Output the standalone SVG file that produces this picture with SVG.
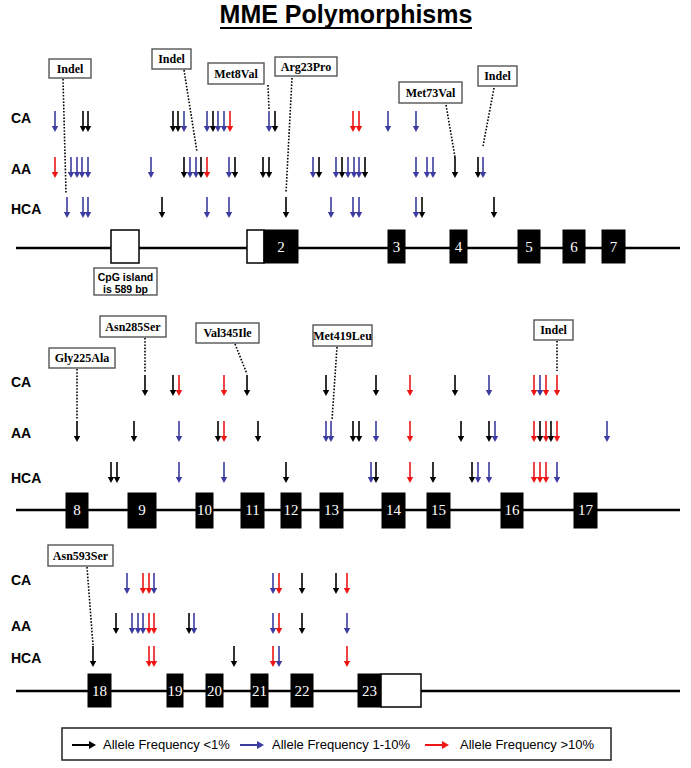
<svg xmlns="http://www.w3.org/2000/svg" xmlns:xlink="http://www.w3.org/1999/xlink" width="691" height="768" viewBox="0 0 691 768">
<style>
.k{color:#000}
.b{color:#3b3ba0}
.r{color:#ee1515}
.gl{stroke:#000;stroke-width:2.5}
.ex{fill:#000;stroke:#000;stroke-width:1}
.wx{fill:#fff;stroke:#000;stroke-width:1.5}
.en{font-family:"Liberation Serif","Times New Roman",serif;font-size:15px;fill:#fff;text-anchor:middle}
.rl{font-family:"Liberation Sans",Arial,sans-serif;font-size:14px;font-weight:bold;fill:#000}
.cb{fill:#fff;stroke:#555;stroke-width:1.4}
.ct{font-family:"Liberation Serif","Times New Roman",serif;font-size:12px;font-weight:bold;fill:#000;text-anchor:middle}
.dl{stroke:#000;stroke-width:1.6;stroke-dasharray:1.6,1.6;fill:none}
.lg{font-family:"Liberation Sans",Arial,sans-serif;font-size:13px;fill:#000}
</style>
<defs>
<g id="a"><line x1="0" y1="0" x2="0" y2="16" stroke="currentColor" stroke-width="1.6"/><path d="M-3.2,15 L3.2,15 L0,21 Z" fill="currentColor"/></g>
<g id="h"><line x1="0" y1="0" x2="18" y2="0" stroke="currentColor" stroke-width="2"/><path d="M17,-4 L17,4 L24,0 Z" fill="currentColor"/></g>
</defs>
<rect width="691" height="768" fill="#fff"/>
<g id="title">
<text x="346" y="23" font-family="'Liberation Sans',Arial,sans-serif" font-size="25" font-weight="bold" text-anchor="middle">MME Polymorphisms</text>
<line x1="220" y1="28" x2="472" y2="28" stroke="#000" stroke-width="2"/>
</g>

<!-- Section 1 -->
<g id="section1">
<g id="labels1">
<text class="rl" x="11" y="123">CA</text>
<text class="rl" x="11" y="174">AA</text>
<text class="rl" x="11" y="214">HCA</text>
</g>
<line class="gl" x1="16" y1="248" x2="680" y2="248"/>
<g id="cpg"><rect class="wx" x="111" y="230" width="28" height="33"/></g>
<g id="exon2"><rect class="wx" x="247" y="230" width="17" height="33"/><rect class="ex" x="264" y="230" width="34" height="33"/><text class="en" x="281" y="252">2</text></g>
<g id="exon3"><rect class="ex" x="388" y="230" width="17" height="33"/><text class="en" x="396.5" y="252">3</text></g>
<g id="exon4"><rect class="ex" x="450" y="230" width="17" height="33"/><text class="en" x="458.5" y="252">4</text></g>
<g id="exon5"><rect class="ex" x="518" y="230" width="22" height="33"/><text class="en" x="529" y="252">5</text></g>
<g id="exon6"><rect class="ex" x="563" y="230" width="22" height="33"/><text class="en" x="574" y="252">6</text></g>
<g id="exon7"><rect class="ex" x="602" y="230" width="23" height="33"/><text class="en" x="613.5" y="252">7</text></g>
<g id="cpglabel"><rect class="cb" x="94" y="268" width="63" height="27"/>
<text x="125.5" y="281" font-family="'Liberation Sans',Arial,sans-serif" font-size="10.5" font-weight="bold" text-anchor="middle">CpG island</text>
<text x="125.5" y="292.5" font-family="'Liberation Sans',Arial,sans-serif" font-size="10.5" font-weight="bold" text-anchor="middle">is 589 bp</text></g>
<g id="ca1">
<use href="#a" x="55" y="111" class="b"/><use href="#a" x="83" y="111" class="k"/><use href="#a" x="88" y="111" class="k"/>
<use href="#a" x="173" y="111" class="k"/><use href="#a" x="178" y="111" class="k"/><use href="#a" x="184" y="111" class="b"/>
<use href="#a" x="207" y="111" class="b"/><use href="#a" x="213" y="111" class="k"/><use href="#a" x="218" y="111" class="b"/><use href="#a" x="224" y="111" class="b"/><use href="#a" x="230" y="111" class="r"/>
<use href="#a" x="269" y="111" class="b"/><use href="#a" x="275" y="111" class="k"/>
<use href="#a" x="353" y="111" class="r"/><use href="#a" x="359" y="111" class="r"/><use href="#a" x="388" y="111" class="b"/><use href="#a" x="416" y="111" class="b"/>
</g>
<g id="aa1">
<use href="#a" x="55" y="157" class="r"/><use href="#a" x="71" y="157" class="b"/><use href="#a" x="77" y="157" class="b"/><use href="#a" x="82" y="157" class="b"/><use href="#a" x="88" y="157" class="b"/>
<use href="#a" x="151" y="157" class="b"/>
<use href="#a" x="184" y="157" class="k"/><use href="#a" x="190" y="157" class="b"/><use href="#a" x="196" y="157" class="b"/><use href="#a" x="201" y="157" class="k"/><use href="#a" x="207" y="157" class="r"/>
<use href="#a" x="229" y="157" class="b"/><use href="#a" x="235" y="157" class="k"/>
<use href="#a" x="263" y="157" class="k"/><use href="#a" x="269" y="157" class="k"/>
<use href="#a" x="313" y="157" class="b"/><use href="#a" x="319" y="157" class="k"/>
<use href="#a" x="336" y="157" class="b"/><use href="#a" x="342" y="157" class="k"/><use href="#a" x="348" y="157" class="b"/><use href="#a" x="354" y="157" class="b"/><use href="#a" x="359" y="157" class="b"/><use href="#a" x="365" y="157" class="k"/>
<use href="#a" x="416" y="157" class="b"/><use href="#a" x="427" y="157" class="b"/><use href="#a" x="433" y="157" class="b"/>
<use href="#a" x="455" y="157" class="k"/><use href="#a" x="478" y="157" class="k"/><use href="#a" x="483" y="157" class="b"/>
</g>
<g id="hca1">
<use href="#a" x="67" y="197" class="b"/><use href="#a" x="83" y="197" class="b"/><use href="#a" x="88" y="197" class="b"/>
<use href="#a" x="162" y="197" class="k"/><use href="#a" x="207" y="197" class="b"/><use href="#a" x="229" y="197" class="b"/>
<use href="#a" x="286" y="197" class="k"/><use href="#a" x="331" y="197" class="b"/>
<use href="#a" x="353" y="197" class="b"/><use href="#a" x="359" y="197" class="b"/>
<use href="#a" x="416" y="197" class="b"/><use href="#a" x="422" y="197" class="k"/><use href="#a" x="494" y="197" class="k"/>
</g>
<g id="c-indel1"><rect class="cb" x="49" y="59" width="42" height="19"/><text class="ct" x="70" y="73">Indel</text></g>
<g id="c-indel2"><rect class="cb" x="152" y="49" width="39" height="20"/><text class="ct" x="171.5" y="63">Indel</text></g>
<g id="c-met8val"><rect class="cb" x="208" y="63" width="56" height="21"/><text class="ct" x="236" y="78">Met8Val</text></g>
<g id="c-arg23pro"><rect class="cb" x="275" y="57" width="62" height="19"/><text class="ct" x="306" y="71">Arg23Pro</text></g>
<g id="c-met73val"><rect class="cb" x="399" y="82" width="63" height="21"/><text class="ct" x="430.5" y="97">Met73Val</text></g>
<g id="c-indel3"><rect class="cb" x="478" y="66" width="39" height="20"/><text class="ct" x="497.5" y="80">Indel</text></g>
</g>

<!-- Section 2 -->
<g id="section2">
<g id="labels2">
<text class="rl" x="11" y="387">CA</text>
<text class="rl" x="11" y="438">AA</text>
<text class="rl" x="11" y="483">HCA</text>
</g>
<line class="gl" x1="16" y1="510" x2="680" y2="510"/>
<g id="exon8"><rect class="ex" x="66" y="493" width="22" height="35"/><text class="en" x="77" y="515">8</text></g>
<g id="exon9"><rect class="ex" x="128" y="493" width="28" height="35"/><text class="en" x="142" y="515">9</text></g>
<g id="exon10"><rect class="ex" x="196" y="493" width="17" height="35"/><text class="en" x="204.5" y="515">10</text></g>
<g id="exon11"><rect class="ex" x="241" y="493" width="23" height="35"/><text class="en" x="252.5" y="515">11</text></g>
<g id="exon12"><rect class="ex" x="281" y="493" width="20" height="35"/><text class="en" x="291" y="515">12</text></g>
<g id="exon13"><rect class="ex" x="320" y="493" width="23" height="35"/><text class="en" x="331.5" y="515">13</text></g>
<g id="exon14"><rect class="ex" x="382" y="493" width="23" height="35"/><text class="en" x="393.5" y="515">14</text></g>
<g id="exon15"><rect class="ex" x="427" y="493" width="23" height="35"/><text class="en" x="438.5" y="515">15</text></g>
<g id="exon16"><rect class="ex" x="501" y="493" width="22" height="35"/><text class="en" x="512" y="515">16</text></g>
<g id="exon17"><rect class="ex" x="574" y="493" width="23" height="35"/><text class="en" x="585.5" y="515">17</text></g>
<g id="ca2">
<use href="#a" x="145" y="375" class="k"/><use href="#a" x="173" y="375" class="k"/><use href="#a" x="179" y="375" class="r"/>
<use href="#a" x="224" y="375" class="r"/><use href="#a" x="247" y="375" class="k"/><use href="#a" x="326" y="375" class="k"/>
<use href="#a" x="376" y="375" class="k"/><use href="#a" x="410" y="375" class="r"/><use href="#a" x="455" y="375" class="k"/><use href="#a" x="489" y="375" class="b"/>
<use href="#a" x="534" y="375" class="r"/><use href="#a" x="540" y="375" class="b"/><use href="#a" x="546" y="375" class="r"/><use href="#a" x="557" y="375" class="r"/>
</g>
<g id="aa2">
<use href="#a" x="77" y="421" class="k"/><use href="#a" x="134" y="421" class="k"/><use href="#a" x="179" y="421" class="b"/>
<use href="#a" x="218" y="421" class="k"/><use href="#a" x="224" y="421" class="r"/><use href="#a" x="258" y="421" class="k"/>
<use href="#a" x="326" y="421" class="b"/><use href="#a" x="331" y="421" class="b"/>
<use href="#a" x="353" y="421" class="k"/><use href="#a" x="359" y="421" class="k"/><use href="#a" x="376" y="421" class="b"/>
<use href="#a" x="410" y="421" class="r"/><use href="#a" x="461" y="421" class="k"/><use href="#a" x="489" y="421" class="k"/><use href="#a" x="495" y="421" class="b"/>
<use href="#a" x="534" y="421" class="r"/><use href="#a" x="540" y="421" class="k"/><use href="#a" x="546" y="421" class="r"/><use href="#a" x="551" y="421" class="k"/><use href="#a" x="557" y="421" class="r"/>
<use href="#a" x="607" y="421" class="b"/>
</g>
<g id="hca2">
<use href="#a" x="111" y="462" class="k"/><use href="#a" x="117" y="462" class="k"/><use href="#a" x="179" y="462" class="b"/>
<use href="#a" x="224" y="462" class="b"/><use href="#a" x="286" y="462" class="k"/>
<use href="#a" x="371" y="462" class="b"/><use href="#a" x="376" y="462" class="k"/><use href="#a" x="410" y="462" class="r"/>
<use href="#a" x="433" y="462" class="k"/><use href="#a" x="472" y="462" class="k"/><use href="#a" x="478" y="462" class="b"/><use href="#a" x="489" y="462" class="b"/>
<use href="#a" x="534" y="462" class="r"/><use href="#a" x="540" y="462" class="r"/><use href="#a" x="546" y="462" class="r"/><use href="#a" x="557" y="462" class="b"/>
</g>
<g id="c-gly225ala"><rect class="cb" x="49" y="348" width="66" height="20"/><text class="ct" x="82" y="362">Gly225Ala</text></g>
<g id="c-asn285ser"><rect class="cb" x="100" y="316" width="66" height="21"/><text class="ct" x="133" y="331">Asn285Ser</text></g>
<g id="c-val345ile"><rect class="cb" x="196" y="323" width="63" height="20"/><text class="ct" x="227.5" y="337">Val345Ile</text></g>
<g id="c-met419leu"><rect class="cb" x="313" y="325" width="59" height="21"/><text class="ct" x="342.5" y="340">Met419Leu</text></g>
<g id="c-indel4"><rect class="cb" x="534" y="320" width="39" height="20"/><text class="ct" x="553.5" y="334">Indel</text></g>
</g>

<!-- Section 3 -->
<g id="section3">
<g id="labels3">
<text class="rl" x="11" y="585">CA</text>
<text class="rl" x="11" y="631">AA</text>
<text class="rl" x="11" y="663">HCA</text>
</g>
<line class="gl" x1="16" y1="691" x2="680" y2="691"/>
<g id="exon18"><rect class="ex" x="88" y="674" width="23" height="33"/><text class="en" x="99.5" y="696">18</text></g>
<g id="exon19"><rect class="ex" x="167" y="674" width="16" height="33"/><text class="en" x="175" y="696">19</text></g>
<g id="exon20"><rect class="ex" x="206" y="674" width="17" height="33"/><text class="en" x="214.5" y="696">20</text></g>
<g id="exon21"><rect class="ex" x="251" y="674" width="17" height="33"/><text class="en" x="259.5" y="696">21</text></g>
<g id="exon22"><rect class="ex" x="291" y="674" width="22" height="33"/><text class="en" x="302" y="696">22</text></g>
<g id="exon23"><rect class="ex" x="358" y="674" width="23" height="33"/><rect class="wx" x="381" y="674" width="40" height="33"/><text class="en" x="369.5" y="696">23</text></g>
<g id="ca3">
<use href="#a" x="127" y="573" class="b"/><use href="#a" x="143" y="573" class="r"/><use href="#a" x="149" y="573" class="r"/><use href="#a" x="154" y="573" class="b"/>
<use href="#a" x="273" y="573" class="b"/><use href="#a" x="279" y="573" class="r"/><use href="#a" x="302" y="573" class="k"/>
<use href="#a" x="336" y="573" class="k"/><use href="#a" x="347" y="573" class="r"/>
</g>
<g id="aa3">
<use href="#a" x="116" y="613" class="k"/><use href="#a" x="132" y="613" class="b"/><use href="#a" x="138" y="613" class="b"/><use href="#a" x="143" y="613" class="b"/><use href="#a" x="149" y="613" class="r"/><use href="#a" x="154" y="613" class="r"/>
<use href="#a" x="189" y="613" class="k"/><use href="#a" x="194" y="613" class="b"/>
<use href="#a" x="273" y="613" class="b"/><use href="#a" x="279" y="613" class="r"/><use href="#a" x="302" y="613" class="k"/><use href="#a" x="347" y="613" class="b"/>
</g>
<g id="hca3">
<use href="#a" x="93" y="646" class="k"/><use href="#a" x="149" y="646" class="r"/><use href="#a" x="154" y="646" class="r"/>
<use href="#a" x="234" y="646" class="k"/><use href="#a" x="273" y="646" class="r"/><use href="#a" x="279" y="646" class="b"/><use href="#a" x="347" y="646" class="r"/>
</g>
<g id="c-asn593ser"><rect class="cb" x="48" y="545" width="65" height="21"/><text class="ct" x="80.5" y="560">Asn593Ser</text></g>
</g>

<g id="connectors">
<line class="dl" x1="63" y1="79" x2="66" y2="193"/>
<line class="dl" x1="184" y1="70" x2="197" y2="152"/>
<line class="dl" x1="268" y1="85" x2="269" y2="110"/>
<line class="dl" x1="292" y1="78" x2="286" y2="193"/>
<line class="dl" x1="446" y1="105" x2="455" y2="157"/>
<line class="dl" x1="494" y1="88" x2="483" y2="146"/>
<line class="dl" x1="77" y1="369" x2="77" y2="420"/>
<line class="dl" x1="145" y1="338" x2="145" y2="372"/>
<line class="dl" x1="235" y1="344" x2="247" y2="374"/>
<line class="dl" x1="337" y1="347" x2="332" y2="420"/>
<line class="dl" x1="557" y1="341" x2="557" y2="371"/>
<line class="dl" x1="87" y1="567" x2="93" y2="645"/>
</g>

<g id="legend">
<rect x="62" y="728" width="549" height="32" fill="#fff" stroke="#222" stroke-width="1.5"/>
<use href="#h" x="72" y="745" class="k"/>
<text class="lg" x="103" y="749">Allele Frequency &lt;1%</text>
<use href="#h" x="240" y="745" class="b"/>
<text class="lg" x="272" y="749">Allele Frequency 1-10%</text>
<use href="#h" x="425" y="745" class="r"/>
<text class="lg" x="460" y="749">Allele Frequency &gt;10%</text>
</g>
</svg>
